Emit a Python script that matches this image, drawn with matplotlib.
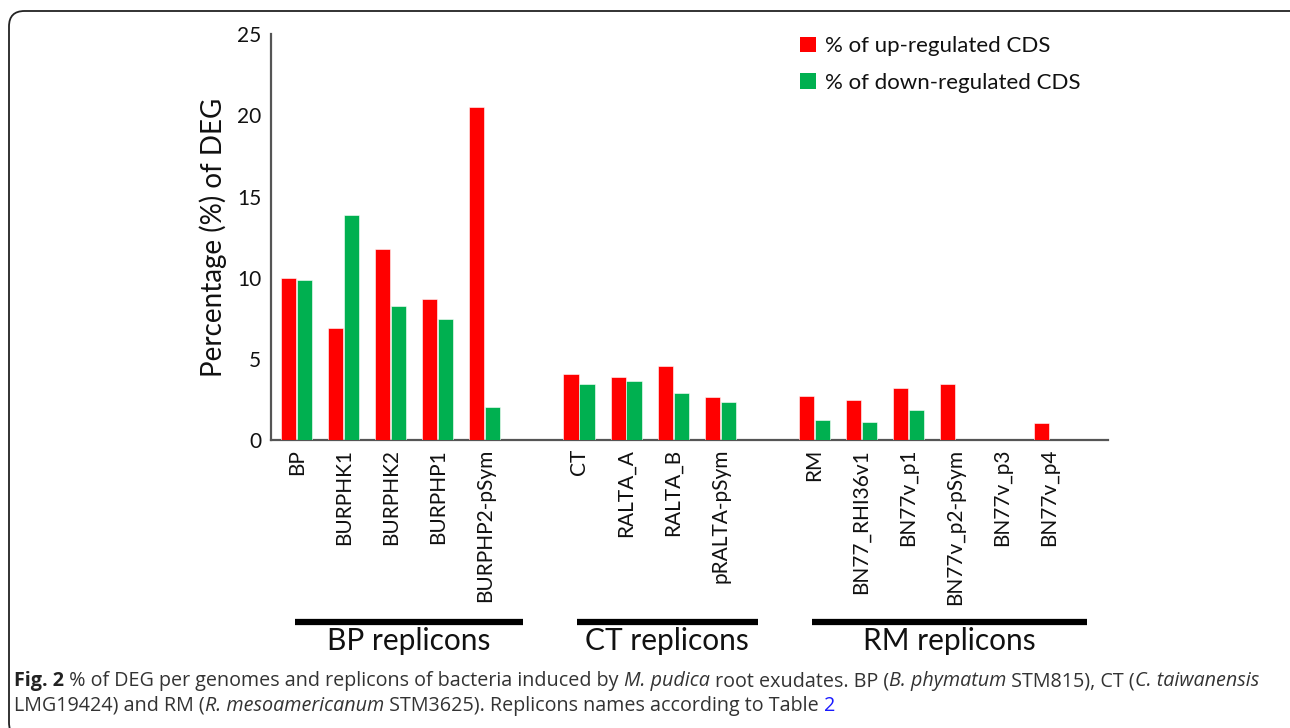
import matplotlib
matplotlib.use("Agg")
import matplotlib.pyplot as plt
import matplotlib.transforms as mtransforms
import numpy as np
from matplotlib.patches import FancyBboxPatch, Patch
from matplotlib.lines import Line2D
from matplotlib.offsetbox import TextArea, HPacker, AnchoredOffsetbox

# ---------------- data ----------------
groups = ["BP replicons", "CT replicons", "RM replicons"]
group_members = [
    ["BP", "BURPHK1", "BURPHK2", "BURPHP1", "BURPHP2-pSym"],
    ["CT", "RALTA_A", "RALTA_B", "pRALTA-pSym"],
    ["RM", "BN77_RHI36v1", "BN77v_p1", "BN77v_p2-pSym", "BN77v_p3", "BN77v_p4"],
]
up_regulated = [10.0, 6.9, 11.8, 8.7, 20.5,
                4.1, 3.9, 4.6, 2.7,
                2.75, 2.5, 3.25, 3.45, 0.0, 1.05]
down_regulated = [9.9, 13.85, 8.3, 7.5, 2.05,
                  3.45, 3.65, 2.95, 2.35,
                  1.25, 1.15, 1.85, 0.0, 0.0, 0.0]
series_labels = ["% of up-regulated CDS", "% of down-regulated CDS"]
y_ticks = [0, 5, 10, 15, 20, 25]
y_label = "Percentage (%) of DEG"

# ---------------- style ----------------
RED = "#FF0000"
GREEN = "#00B050"
AXCOL = "#555555"
CHART_FONT = ["Lato", "DejaVu Sans"]
CAP_FONT = ["Open Sans", "DejaVu Sans"]
plt.rcParams["font.family"] = CHART_FONT

W, H = 1290, 728
fig = plt.figure(figsize=(W / 100, H / 100), dpi=100)

# positions: consecutive slots, one empty slot between groups
positions = []
spans = []
pos = 0
for members in group_members:
    start = pos
    for _ in members:
        positions.append(pos)
        pos += 1
    spans.append((start, pos - 1))
    pos += 1
positions = np.array(positions, dtype=float)
labels = [m for g in group_members for m in g]

ax = fig.add_axes([271 / W, 1 - 440.5 / H, (1108 - 271) / W, (440.5 - 34) / H])
bw = 0.32
off = 0.17
ax.bar(positions - off, up_regulated, width=bw, color=RED,
       edgecolor="white", linewidth=0.4, zorder=3)
ax.bar(positions + off, down_regulated, width=bw, color=GREEN,
       edgecolor="white", linewidth=0.4, zorder=3)

ax.set_xlim(-0.55, 17.25)
ax.set_ylim(0, 25)
ax.set_yticks(y_ticks)
ax.set_yticklabels([str(t) for t in y_ticks], fontsize=15, color="#111111")
ax.set_xticks(positions)
ax.set_xticklabels(labels, rotation=90, fontsize=15, color="#111111")
ax.tick_params(axis="both", length=0)
ax.tick_params(axis="y", pad=7)
ax.tick_params(axis="x", pad=6)
for s in ["top", "right"]:
    ax.spines[s].set_visible(False)
for s in ["left", "bottom"]:
    ax.spines[s].set_color(AXCOL)
    ax.spines[s].set_linewidth(1.6)
ax.spines["left"].set_zorder(5)
ax.set_ylabel(y_label, fontsize=20, labelpad=7, color="#111111")

# legend
handles = [Patch(facecolor=RED, edgecolor="none"), Patch(facecolor=GREEN, edgecolor="none")]
leg = fig.legend(handles, series_labels, loc="upper left",
                 bbox_to_anchor=(789 / W, 1 - 25 / H), frameon=False,
                 fontsize=16, handlelength=0.7, handleheight=0.7,
                 handletextpad=0.4, labelspacing=0.75, borderpad=0)
for t in leg.get_texts():
    t.set_color("#111111")

# group bars and labels
trans = mtransforms.blended_transform_factory(ax.transData, fig.transFigure)
for (s, e), name in zip(spans, groups):
    x0, x1 = s - 0.05, e + 0.8
    fig.add_artist(Line2D([x0, x1], [1 - 621.5 / H] * 2, transform=trans,
                          color="black", linewidth=4.5, solid_capstyle="butt"))
    fig.text((x0 + x1) / 2, 1 - 641 / H, name, transform=trans, fontsize=21.5,
             ha="center", va="center", color="#111111")

# frame
frame = FancyBboxPatch((9 / W, -10 / H), (W + 20) / W, (H - 11 + 10) / H,
                       boxstyle="round,pad=0,rounding_size=0.012",
                       transform=fig.transFigure, fill=False,
                       edgecolor="#222222", linewidth=1.3,
                       mutation_aspect=W / H)
fig.add_artist(frame)

# caption
CAP_SIZE = 14.2
TXT = "#333333"
def run(text, style="normal", weight="normal", color=TXT):
    return TextArea(text, textprops=dict(fontsize=CAP_SIZE, family=CAP_FONT,
                                         style=style, weight=weight, color=color))

line1 = [run("Fig. 2", weight="bold", color="#222222"),
         run(" % of DEG per genomes and replicons of bacteria induced by "),
         run("M. pudica", style="italic"),
         run(" root exudates. BP ("),
         run("B. phymatum", style="italic"),
         run(" STM815), CT ("),
         run("C. taiwanensis", style="italic")]
line2 = [run("LMG19424) and RM ("),
         run("R. mesoamericanum", style="italic"),
         run(" STM3625). Replicons names according to Table "),
         run("2", color="#1a1aff")]
for parts, yc in [(line1, 681), (line2, 706)]:
    hp = HPacker(children=parts, align="baseline", pad=0, sep=0)
    ab = AnchoredOffsetbox(loc="center left", child=hp, pad=0, borderpad=0,
                           frameon=False, bbox_to_anchor=(14 / W, 1 - yc / H),
                           bbox_transform=fig.transFigure)
    fig.add_artist(ab)

fig.savefig("out.png", dpi=100)
